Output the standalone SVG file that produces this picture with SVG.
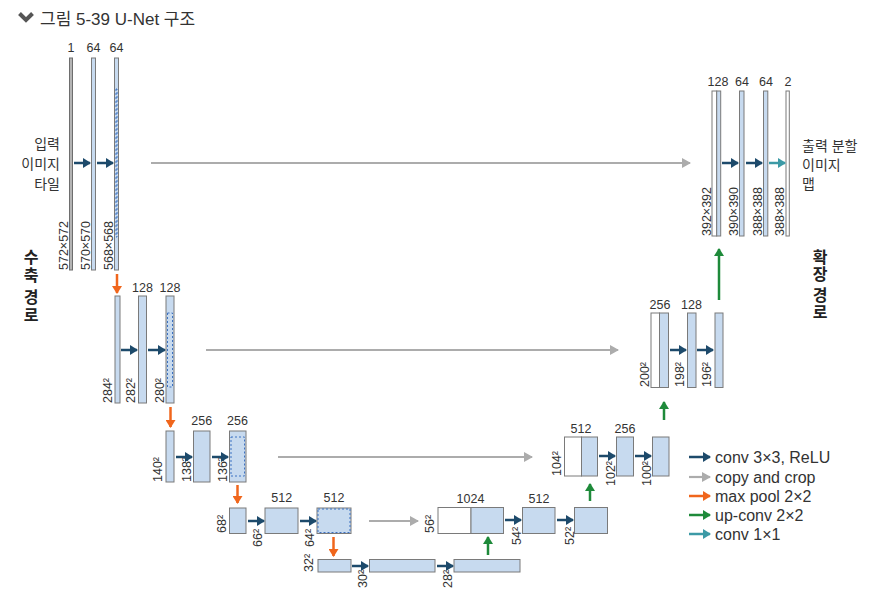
<svg xmlns="http://www.w3.org/2000/svg" width="873" height="599" viewBox="0 0 873 599">
<style>
.bar{fill:#c7daef;stroke:#7a7a7a;stroke-width:1}
.wbar{fill:#ffffff;stroke:#7a7a7a;stroke-width:1}
.gbar{fill:#b4b4b4;stroke:#6e6e6e;stroke-width:1}
.dash{fill:none;stroke:#3d72c2;stroke-width:1;stroke-dasharray:2 2}
.t{font-family:"Liberation Sans","Noto Sans CJK KR",sans-serif;fill:#333}
.n{font-size:12.5px;text-anchor:middle}
.r{font-size:12.5px}
.k{font-size:14px}
.kb{font-size:16px;font-weight:bold;text-anchor:middle;fill:#222}
.lg{font-size:16px}
.conv{stroke:#1d4a6b;stroke-width:2.5;fill:none;marker-end:url(#mc)}
.copy{stroke:#acacac;stroke-width:2.2;fill:none;marker-end:url(#mg)}
.pool{stroke:#f0661c;stroke-width:2.5;fill:none;marker-end:url(#mo)}
.up{stroke:#1e8a3a;stroke-width:2.5;fill:none;marker-end:url(#mu)}
.c11{stroke:#3c9aa6;stroke-width:2.5;fill:none;marker-end:url(#mt)}
</style>
<defs>
<marker id="mc" markerWidth="8" markerHeight="10" refX="7" refY="5" orient="auto" markerUnits="userSpaceOnUse"><path d="M0,0 L8,5 L0,10 z" fill="#1d4a6b"/></marker>
<marker id="mg" markerWidth="9" markerHeight="10" refX="8" refY="5" orient="auto" markerUnits="userSpaceOnUse"><path d="M0,0 L9,5 L0,10 z" fill="#acacac"/></marker>
<marker id="mo" markerWidth="8" markerHeight="10" refX="7" refY="5" orient="auto" markerUnits="userSpaceOnUse"><path d="M0,0 L8,5 L0,10 z" fill="#f0661c"/></marker>
<marker id="mu" markerWidth="8" markerHeight="10" refX="7" refY="5" orient="auto" markerUnits="userSpaceOnUse"><path d="M0,0 L8,5 L0,10 z" fill="#1e8a3a"/></marker>
<marker id="mt" markerWidth="8" markerHeight="10" refX="7" refY="5" orient="auto" markerUnits="userSpaceOnUse"><path d="M0,0 L8,5 L0,10 z" fill="#3c9aa6"/></marker>
</defs>
<rect width="873" height="599" fill="#ffffff"/>

<g id="title">
<path d="M19.5,13.5 L26,20 L32.5,13.5" fill="none" stroke="#555" stroke-width="4" stroke-linejoin="miter"/>
<text class="t" x="40" y="25" font-size="17" fill="#444">그림 5-39 U-Net 구조</text>
</g>

<g id="side-labels">
<text class="t k" x="60" y="149" text-anchor="end">입력</text>
<text class="t k" x="60" y="169" text-anchor="end">이미지</text>
<text class="t k" x="60" y="189" text-anchor="end">타일</text>
<text class="t k" x="802" y="151">출력 분할</text>
<text class="t k" x="802" y="170">이미지</text>
<text class="t k" x="802" y="189">맵</text>
<text class="t kb" x="31" y="263">수</text>
<text class="t kb" x="31" y="281">축</text>
<text class="t kb" x="31" y="303">경</text>
<text class="t kb" x="31" y="321">로</text>
<text class="t kb" x="820" y="263">확</text>
<text class="t kb" x="820" y="280">장</text>
<text class="t kb" x="820" y="301">경</text>
<text class="t kb" x="820" y="318">로</text>
</g>

<!-- contracting path level 1 -->
<g id="d1a"><rect class="gbar" x="69.5" y="58" width="3" height="212"/><text class="t n" x="71" y="52">1</text><text class="t r" transform="translate(67.5,270) rotate(-90)">572×572</text></g>
<g id="d1b"><rect class="bar" x="91.5" y="58" width="4" height="212"/><text class="t n" x="93.5" y="52">64</text><text class="t r" transform="translate(90,270) rotate(-90)">570×570</text></g>
<g id="d1c"><rect class="bar" x="114.5" y="58" width="4" height="212"/><rect class="dash" x="116" y="89" width="1" height="148"/><text class="t n" x="116.5" y="52">64</text><text class="t r" transform="translate(112.5,270) rotate(-90)">568×568</text></g>

<!-- level 2 -->
<g id="d2a"><rect class="bar" x="115" y="296" width="5" height="107"/><text class="t r" transform="translate(112,403) rotate(-90)">284²</text></g>
<g id="d2b"><rect class="bar" x="138.5" y="296" width="8" height="107"/><text class="t n" x="142.5" y="292">128</text><text class="t r" transform="translate(135,403) rotate(-90)">282²</text></g>
<g id="d2c"><rect class="bar" x="166" y="296" width="8" height="107"/><rect class="dash" x="167.5" y="313" width="5" height="74"/><text class="t n" x="170" y="292">128</text><text class="t r" transform="translate(163.5,403) rotate(-90)">280²</text></g>

<!-- level 3 -->
<g id="d3a"><rect class="bar" x="166" y="431" width="8" height="51"/><text class="t r" transform="translate(162,482) rotate(-90)">140²</text></g>
<g id="d3b"><rect class="bar" x="193.5" y="431" width="16.5" height="51"/><text class="t n" x="201.7" y="425">256</text><text class="t r" transform="translate(191,482) rotate(-90)">138²</text></g>
<g id="d3c"><rect class="bar" x="229.5" y="431" width="16.5" height="51"/><rect class="dash" x="231" y="437" width="13.5" height="39"/><text class="t n" x="237.5" y="425">256</text><text class="t r" transform="translate(227,482) rotate(-90)">136²</text></g>

<!-- level 4 -->
<g id="d4a"><rect class="bar" x="229.5" y="508" width="16.5" height="25.5"/><text class="t r" transform="translate(226,533) rotate(-90)">68²</text></g>
<g id="d4b"><rect class="bar" x="265" y="508" width="33" height="25.5"/><text class="t n" x="281.7" y="502">512</text><text class="t r" transform="translate(262,547) rotate(-90)">66²</text></g>
<g id="d4c"><rect class="bar" x="317" y="508" width="34" height="25.5"/><rect class="dash" x="318" y="509" width="32" height="23.5"/><text class="t n" x="334" y="502">512</text><text class="t r" transform="translate(314,547) rotate(-90)">64²</text></g>

<!-- bottleneck -->
<g id="b1"><rect class="bar" x="318" y="559.5" width="33" height="12.5"/><text class="t r" transform="translate(313,572) rotate(-90)">32²</text></g>
<g id="b2"><rect class="bar" x="369.5" y="559.5" width="65.5" height="12.5"/><text class="t r" transform="translate(367,588) rotate(-90)">30²</text></g>
<g id="b3"><rect class="bar" x="454" y="559.5" width="66" height="12.5"/><text class="t r" transform="translate(452,588) rotate(-90)">28²</text></g>

<!-- expanding level 4 -->
<g id="u4a"><rect class="wbar" x="438" y="507.5" width="33" height="26"/><rect class="bar" x="471" y="507.5" width="32.5" height="26"/><text class="t n" x="470.5" y="503">1024</text><text class="t r" transform="translate(434,533) rotate(-90)">56²</text></g>
<g id="u4b"><rect class="bar" x="522.5" y="507.5" width="32.5" height="26"/><text class="t n" x="539" y="503">512</text><text class="t r" transform="translate(520.5,545) rotate(-90)">54²</text></g>
<g id="u4c"><rect class="bar" x="574.5" y="507.5" width="33" height="26"/><text class="t r" transform="translate(574,545) rotate(-90)">52²</text></g>

<!-- expanding level 3 -->
<g id="u3a"><rect class="wbar" x="564.5" y="437" width="17" height="39"/><rect class="bar" x="581.5" y="437" width="16" height="39"/><text class="t n" x="581" y="433">512</text><text class="t r" transform="translate(561,476) rotate(-90)">104²</text></g>
<g id="u3b"><rect class="bar" x="616.5" y="437" width="17" height="39"/><text class="t n" x="625" y="433">256</text><text class="t r" transform="translate(615,486) rotate(-90)">102²</text></g>
<g id="u3c"><rect class="bar" x="652.5" y="437" width="16.5" height="39"/><text class="t r" transform="translate(651,486) rotate(-90)">100²</text></g>

<!-- expanding level 2 -->
<g id="u2a"><rect class="wbar" x="651" y="313" width="8.5" height="74.5"/><rect class="bar" x="659.5" y="313" width="9" height="74.5"/><text class="t n" x="660" y="309">256</text><text class="t r" transform="translate(648.5,387) rotate(-90)">200²</text></g>
<g id="u2b"><rect class="bar" x="687.5" y="313" width="8.5" height="74.5"/><text class="t n" x="691.5" y="309">128</text><text class="t r" transform="translate(684,387) rotate(-90)">198²</text></g>
<g id="u2c"><rect class="bar" x="715" y="313" width="8" height="74.5"/><text class="t r" transform="translate(711,387) rotate(-90)">196²</text></g>

<!-- expanding level 1 -->
<g id="u1a"><rect class="wbar" x="712" y="91" width="4.7" height="145"/><rect class="bar" x="716.7" y="91" width="4" height="145"/><text class="t n" x="718" y="86">128</text><text class="t r" transform="translate(710.5,236) rotate(-90)">392×392</text></g>
<g id="u1b"><rect class="bar" x="739.5" y="91" width="4.5" height="145"/><text class="t n" x="742" y="86">64</text><text class="t r" transform="translate(737.5,236) rotate(-90)">390×390</text></g>
<g id="u1c"><rect class="bar" x="763.5" y="91" width="4.3" height="145"/><text class="t n" x="766" y="86">64</text><text class="t r" transform="translate(761.5,236) rotate(-90)">388×388</text></g>
<g id="u1d"><rect class="wbar" x="786" y="91" width="3.3" height="145"/><text class="t n" x="788" y="86">2</text><text class="t r" transform="translate(784,236) rotate(-90)">388×388</text></g>

<g id="connectors">
<!-- conv 3x3 -->
<line class="conv" x1="74" y1="163" x2="90" y2="163"/>
<line class="conv" x1="97" y1="163" x2="113" y2="163"/>
<line class="conv" x1="121" y1="350" x2="137" y2="350"/>
<line class="conv" x1="148" y1="350" x2="165" y2="350"/>
<line class="conv" x1="176" y1="457" x2="192" y2="457"/>
<line class="conv" x1="212" y1="457" x2="228" y2="457"/>
<line class="conv" x1="248" y1="521" x2="264" y2="521"/>
<line class="conv" x1="300" y1="521" x2="316" y2="521"/>
<line class="conv" x1="352" y1="566" x2="368" y2="566"/>
<line class="conv" x1="437" y1="566" x2="453" y2="566"/>
<line class="conv" x1="505" y1="520" x2="521" y2="520"/>
<line class="conv" x1="557" y1="520" x2="573" y2="520"/>
<line class="conv" x1="599" y1="456" x2="615" y2="456"/>
<line class="conv" x1="635" y1="456" x2="651" y2="456"/>
<line class="conv" x1="670" y1="350" x2="686" y2="350"/>
<line class="conv" x1="697" y1="350" x2="713" y2="350"/>
<line class="conv" x1="722" y1="163" x2="738" y2="163"/>
<line class="conv" x1="746" y1="163" x2="762" y2="163"/>
<!-- conv 1x1 -->
<line class="c11" x1="769" y1="163" x2="785" y2="163"/>
<!-- copy and crop -->
<line class="copy" x1="151" y1="163" x2="690" y2="163"/>
<line class="copy" x1="206" y1="350" x2="618" y2="350"/>
<line class="copy" x1="278" y1="457" x2="532" y2="457"/>
<line class="copy" x1="369" y1="521" x2="418" y2="521"/>
<!-- max pool -->
<line class="pool" x1="117" y1="274" x2="117" y2="293"/>
<line class="pool" x1="170.5" y1="407" x2="170.5" y2="427"/>
<line class="pool" x1="237.5" y1="485" x2="237.5" y2="503"/>
<line class="pool" x1="333.5" y1="537" x2="333.5" y2="556"/>
<!-- up-conv -->
<line class="up" x1="488" y1="555" x2="488" y2="537"/>
<line class="up" x1="590" y1="501" x2="590" y2="484"/>
<line class="up" x1="664" y1="420" x2="664" y2="402"/>
<line class="up" x1="719" y1="300" x2="719" y2="249"/>
</g>

<g id="legend">
<line class="conv" x1="689" y1="457" x2="710" y2="457"/>
<text class="t lg" x="715" y="462.5">conv 3×3, ReLU</text>
<line class="copy" x1="689" y1="477" x2="710" y2="477"/>
<text class="t lg" x="715" y="482.5">copy and crop</text>
<line class="pool" x1="689" y1="496" x2="710" y2="496"/>
<text class="t lg" x="715" y="501.5">max pool 2×2</text>
<line class="up" x1="689" y1="515" x2="710" y2="515"/>
<text class="t lg" x="715" y="520.5">up-conv 2×2</text>
<line class="c11" x1="689" y1="534" x2="710" y2="534"/>
<text class="t lg" x="715" y="539.5">conv 1×1</text>
</g>
</svg>
